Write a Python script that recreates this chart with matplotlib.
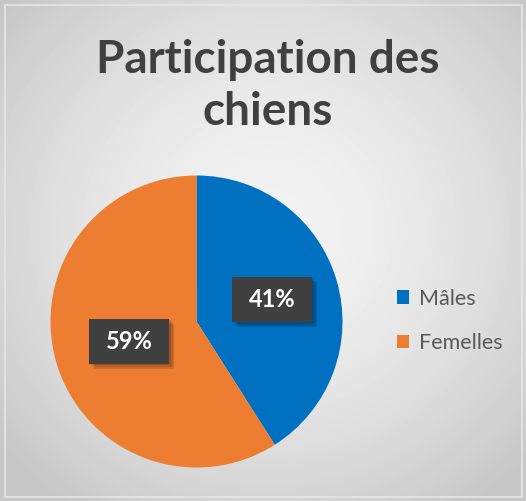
import numpy as np
import matplotlib
matplotlib.use("Agg")
import matplotlib.pyplot as plt
from matplotlib.patches import Patch, Rectangle

# data
categories = ["Mâles", "Femelles"]
values = [41, 59]
colors = ["#0070C0", "#ED7D31"]
title = "Participation des\nchiens"

plt.rcParams['font.family'] = ['Lato', 'DejaVu Sans']

fig = plt.figure(figsize=(5.26, 5.01), dpi=100)

# background: soft radial gray gradient
bg = fig.add_axes([0, 0, 1, 1], zorder=-10)
yy, xx = np.mgrid[0:501, 0:526]
d = np.hypot((xx - 270) / 330, (yy - 230) / 320)
shade = np.clip(0.955 - 0.16 * d ** 1.6, 0.78, 1)
bg.imshow(shade, cmap='gray', vmin=0, vmax=1, aspect='auto',
          extent=[0, 1, 0, 1], interpolation='bilinear')
bg.add_patch(Rectangle((5 / 526, 4 / 501), 517 / 526, 492 / 501,
                       fill=False, edgecolor='#e6e6e6', lw=1.2))
bg.set_xlim(0, 1)
bg.set_ylim(0, 1)
bg.axis('off')

fig.text(268 / 526, 1 - 86 / 501, title, ha='center', va='center',
         fontsize=33, fontweight='bold', color='#404040', linespacing=1.3)

# pie
ax = fig.add_axes([50.5 / 526, 33.5 / 501, 292 / 526, 292 / 501])
wedges, _ = ax.pie(values, colors=colors, startangle=90, counterclock=False,
                   radius=1)
ax.set_xlim(-1, 1)
ax.set_ylim(-1, 1)
ax.set_aspect('equal')

# percentage labels in dark boxes
dists = [0.54, 0.48]
bw, bh = 80 / 146, 45 / 146
for w, v, r in zip(wedges, values, dists):
    ang = np.deg2rad((w.theta1 + w.theta2) / 2)
    x, y = r * np.cos(ang), r * np.sin(ang)
    for k, a in enumerate([0.12, 0.12, 0.12]):
        o = 0.012 * (k + 1)
        ax.add_patch(Rectangle((x - bw / 2 + o, y - bh / 2 - o), bw, bh,
                               facecolor='black', alpha=a, lw=0, zorder=3))
    ax.add_patch(Rectangle((x - bw / 2, y - bh / 2), bw, bh,
                           facecolor='#404040', lw=0, zorder=4))
    ax.text(x, y, f"{v}%", ha='center', va='center', color='white',
            fontsize=17, fontweight='bold', zorder=5)

# legend
handles = [Patch(facecolor=c, edgecolor='none') for c in colors]
fig.legend(handles, categories, loc='center left',
           bbox_to_anchor=(397 / 526, 1 - 321 / 501), frameon=False,
           fontsize=15.5, labelcolor='#595959', handlelength=0.58,
           handleheight=0.58, handletextpad=0.42, labelspacing=1.15,
           borderpad=0, borderaxespad=0)

fig.savefig('out.png', dpi=100)
